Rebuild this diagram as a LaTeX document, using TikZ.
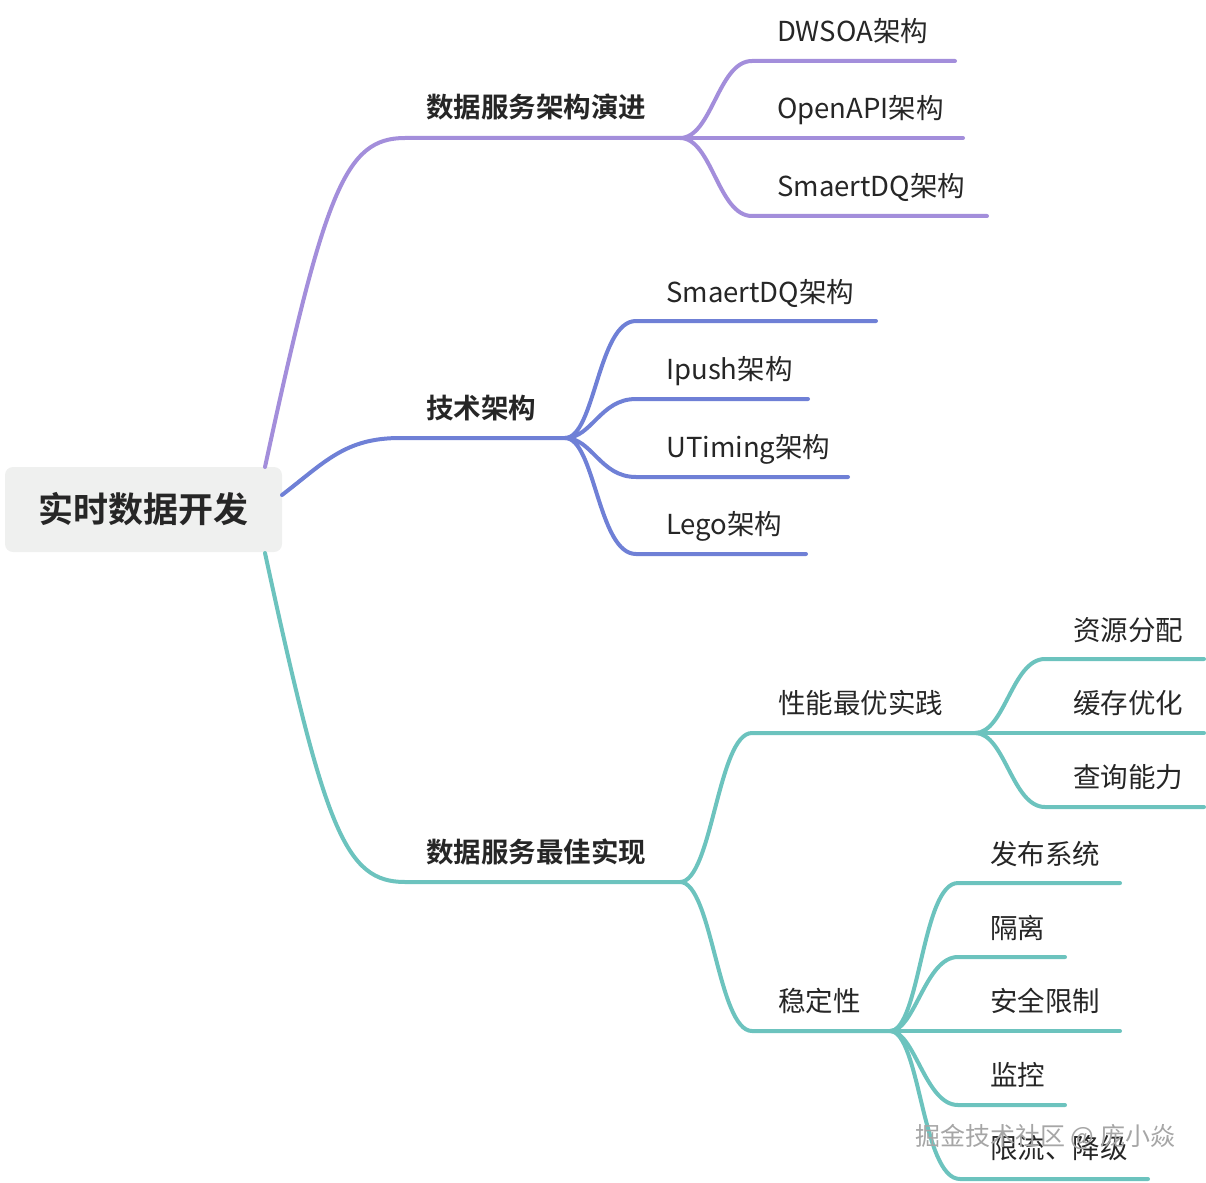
\documentclass[tikz,border=0pt]{standalone}
\usepackage{fontspec}
\setmainfont{Noto Sans CJK SC}[BoldFont={Noto Sans CJK SC Bold}]
\definecolor{pur}{HTML}{A38EDB}
\definecolor{blu}{HTML}{6F80D6}
\definecolor{tea}{HTML}{6CC3BE}
\definecolor{rootbg}{HTML}{EFF0EF}
\definecolor{txt}{HTML}{262626}
\tikzset{
  lbl/.style={anchor=west, inner sep=0pt, text=txt, font=\fontsize{27.5}{32}\selectfont, text height=0.8em, text depth=0.2em, yshift=-7pt},
  lblb/.style={lbl, font=\fontsize{27.5}{32}\bfseries},
  branch/.style={line width=4pt, line cap=round, line join=round},
}
\begin{document}
\begin{tikzpicture}[x=1pt,y=-1pt]
\useasboundingbox (0,0) rectangle (1206,1182);
% root
\node[fill=rootbg, rounded corners=8pt, minimum width=277pt, minimum height=85pt, inner sep=0pt, text=txt, font=\fontsize{35}{40}\bfseries] (root) at (143.5,509.5) {实时数据开发};
\coordinate (r1) at (265,467);
\coordinate (r2) at (282,495);
\coordinate (r3) at (265,553);
% forks
\coordinate (pf) at (680,138);
\coordinate (bf) at (565,438);
\coordinate (tf) at (680,882);
\coordinate (sf1) at (975,733);
\coordinate (sf2) at (890,1031);
% ends
\coordinate (pe1) at (955,61);
\coordinate (pe2) at (963,138);
\coordinate (pe3) at (987,216);
\coordinate (be1) at (876,321);
\coordinate (be2) at (808,399);
\coordinate (be3) at (848,477);
\coordinate (be4) at (806,554);
\coordinate (qe1) at (1204,659);
\coordinate (qe2) at (1204,733);
\coordinate (qe3) at (1204,807);
\coordinate (se1) at (1120,883);
\coordinate (se2) at (1065,957);
\coordinate (se3) at (1120,1031);
\coordinate (se4) at (1065,1105);
\coordinate (se5) at (1148,1179);

% purple
\draw[branch, pur] (r1) .. controls (325,190) and (345,138) .. (405,138) -- (pf);
\draw[branch, pur] (pf) .. controls (712,138) and (718,61) .. (752,61) -- (pe1);
\draw[branch, pur] (pf) -- (pe2);
\draw[branch, pur] (pf) .. controls (712,138) and (718,216) .. (752,216) -- (pe3);
% blue
\draw[branch, blu] (r2) .. controls (325,462) and (345,438) .. (400,438) -- (bf);
\draw[branch, blu] (bf) .. controls (595,438) and (598,321) .. (636,321) -- (be1);
\draw[branch, blu] (bf) .. controls (592,438) and (600,399) .. (636,399) -- (be2);
\draw[branch, blu] (bf) .. controls (592,438) and (600,477) .. (636,477) -- (be3);
\draw[branch, blu] (bf) .. controls (595,438) and (598,554) .. (636,554) -- (be4);
% teal
\draw[branch, tea] (r3) .. controls (325,830) and (345,882) .. (405,882) -- (tf);
\draw[branch, tea] (tf) .. controls (712,882) and (718,733) .. (752,733) -- (sf1);
\draw[branch, tea] (tf) .. controls (712,882) and (718,1031) .. (752,1031) -- (sf2);
\draw[branch, tea] (sf1) .. controls (1005,733) and (1012,659) .. (1045,659) -- (qe1);
\draw[branch, tea] (sf1) -- (qe2);
\draw[branch, tea] (sf1) .. controls (1005,733) and (1012,807) .. (1045,807) -- (qe3);
\draw[branch, tea] (sf2) .. controls (920,1031) and (922,883) .. (958,883) -- (se1);
\draw[branch, tea] (sf2) .. controls (915,1031) and (925,957) .. (958,957) -- (se2);
\draw[branch, tea] (sf2) -- (se3);
\draw[branch, tea] (sf2) .. controls (915,1031) and (925,1105) .. (958,1105) -- (se4);
\draw[branch, tea] (sf2) .. controls (920,1031) and (922,1179) .. (960,1179) -- (se5);

% labels
\node[lblb] (l1) at (426,108) {数据服务架构演进};
\node[lblb] (l2) at (426,408) {技术架构};
\node[lblb] (l3) at (426,852) {数据服务最佳实现};
\node[lbl] (p1) at (777,32) {DWSOA架构};
\node[lbl] (p2) at (777,109) {OpenAPI架构};
\node[lbl] (p3) at (777,187) {SmaertDQ架构};
\node[lbl] (b1) at (666,292) {SmaertDQ架构};
\node[lbl] (b2) at (666,369) {Ipush架构};
\node[lbl] (b3) at (666,447) {UTiming架构};
\node[lbl] (b4) at (666,524) {Lego架构};
\node[lbl] (t1) at (778,703) {性能最优实践};
\node[lbl] (t2) at (778,1001) {稳定性};
\node[lbl] (q1) at (1073,630) {资源分配};
\node[lbl] (q2) at (1073,703) {缓存优化};
\node[lbl] (q3) at (1073,777) {查询能力};
\node[lbl] (s1) at (990,854) {发布系统};
\node[lbl] (s2) at (990,928) {隔离};
\node[lbl] (s3) at (990,1001) {安全限制};
\node[lbl] (s4) at (990,1075) {监控};
\node[lbl] (s5) at (990,1148) {限流、降级};
% watermark
\node[anchor=west, inner sep=0pt, text=gray!70, font=\fontsize{25}{29}\selectfont] (wm) at (915,1137) {掘金技术社区 @ 庞小焱};
\end{tikzpicture}
\end{document}
